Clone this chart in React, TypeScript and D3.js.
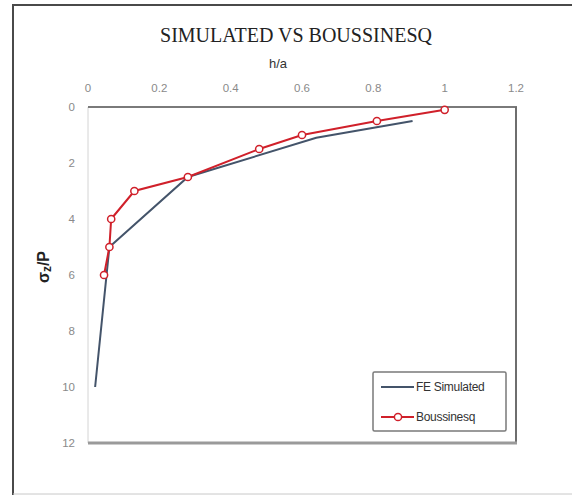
import React from "react";
import * as d3 from "d3";

// Depth ratio (σz/P) against h/a for the two methods
const feHa = [0.91, 0.64, 0.28, 0.06, 0.02];
const feDepth = [0.5, 1.1, 2.5, 5, 10];

const boussHa = [1.0, 0.81, 0.6, 0.48, 0.28, 0.13, 0.065, 0.06, 0.045];
const boussDepth = [0.1, 0.5, 1, 1.5, 2.5, 3, 4, 5, 6];

const xTicks = [0, 0.2, 0.4, 0.6, 0.8, 1, 1.2];
const yTicks = [0, 2, 4, 6, 8, 10, 12];

const seriesNames = ["FE Simulated", "Boussinesq"];
const colors = ["#44546a", "#d0202a"];

const W = 572;
const H = 495;

export default function App() {
  const x = d3.scaleLinear().domain([0, 1.2]).range([88, 516]);
  const y = d3.scaleLinear().domain([0, 12]).range([107, 443]);

  const line = d3
    .line<[number, number]>()
    .x((d) => x(d[0]))
    .y((d) => y(d[1]));

  const fe: [number, number][] = feHa.map((v, i) => [v, feDepth[i]]);
  const bo: [number, number][] = boussHa.map((v, i) => [v, boussDepth[i]]);

  const [x0, x1] = x.range();
  const [y0, y1] = y.range();

  const tickFont = "'Liberation Sans', Arial, sans-serif";

  return (
    <svg
      width={W}
      height={H}
      style={{ position: "absolute", left: 0, top: 0, background: "#fff" }}
    >
      {/* outer frame */}
      <line x1={12} y1={5} x2={W} y2={5} stroke="#4a4a4a" strokeWidth={2} />
      <line x1={13} y1={4} x2={13} y2={H} stroke="#4a4a4a" strokeWidth={2} />
      <line x1={13} y1={494} x2={W} y2={494} stroke="#c8c8c8" strokeWidth={1} />

      {/* title */}
      <text
        x={296}
        y={42}
        textAnchor="middle"
        fontFamily="'Liberation Serif', 'Times New Roman', serif"
        fontSize={20}
        fill="#222"
      >
        SIMULATED VS BOUSSINESQ
      </text>

      {/* x axis title */}
      <text
        x={278}
        y={68}
        textAnchor="middle"
        fontFamily={tickFont}
        fontSize={13}
        fill="#333"
      >
        h/a
      </text>

      {/* x tick labels (top) */}
      {xTicks.map((t) => (
        <text
          key={"x" + t}
          x={x(t)}
          y={92}
          textAnchor="middle"
          fontFamily={tickFont}
          fontSize={11.5}
          fill="#8a8a8a"
        >
          {d3.format("~g")(t)}
        </text>
      ))}

      {/* y tick labels */}
      {yTicks.map((t) => (
        <text
          key={"y" + t}
          x={75}
          y={y(t) + 4}
          textAnchor="end"
          fontFamily={tickFont}
          fontSize={11.5}
          fill="#8a8a8a"
        >
          {t}
        </text>
      ))}

      {/* y axis title */}
      <text
        transform={`translate(49, 267) rotate(-90)`}
        textAnchor="middle"
        fontFamily={tickFont}
        fontSize={16}
        fontWeight="bold"
        fill="#222"
      >
        σ
        <tspan fontSize={12} dy={2}>
          z
        </tspan>
        <tspan dy={-2}>/P</tspan>
      </text>

      {/* plot area border */}
      <line x1={x0} y1={y0} x2={x0} y2={y1} stroke="#d4d4d4" strokeWidth={1} />
      <line x1={x0} y1={y0} x2={x1 + 1} y2={y0} stroke="#7a7a7a" strokeWidth={2} />
      <line x1={x1} y1={y0} x2={x1} y2={y1 + 1} stroke="#6e6e6e" strokeWidth={2} />
      <line x1={x0} y1={y1} x2={x1 + 1} y2={y1} stroke="#9a9a9a" strokeWidth={3} />

      {/* series */}
      <path d={line(fe) ?? ""} fill="none" stroke={colors[0]} strokeWidth={2} />
      <path d={line(bo) ?? ""} fill="none" stroke={colors[1]} strokeWidth={2} />
      {bo.map((d, i) => (
        <circle
          key={"m" + i}
          cx={x(d[0])}
          cy={y(d[1])}
          r={3.6}
          fill="#fff"
          stroke={colors[1]}
          strokeWidth={1.5}
        />
      ))}

      {/* legend */}
      <rect
        x={373}
        y={372}
        width={133}
        height={59}
        rx={1.5}
        fill="#fff"
        stroke="#7a7a7a"
        strokeWidth={1.5}
      />
      <line x1={381} y1={387} x2={414} y2={387} stroke={colors[0]} strokeWidth={2} />
      <text x={416} y={391} fontFamily={tickFont} fontSize={12} fill="#333" letterSpacing={-0.3}>
        {seriesNames[0]}
      </text>
      <line x1={381} y1={417} x2={414} y2={417} stroke={colors[1]} strokeWidth={2} />
      <circle cx={398} cy={417} r={3.6} fill="#fff" stroke={colors[1]} strokeWidth={1.5} />
      <text x={416} y={421} fontFamily={tickFont} fontSize={12} fill="#333" letterSpacing={-0.3}>
        {seriesNames[1]}
      </text>
    </svg>
  );
}
